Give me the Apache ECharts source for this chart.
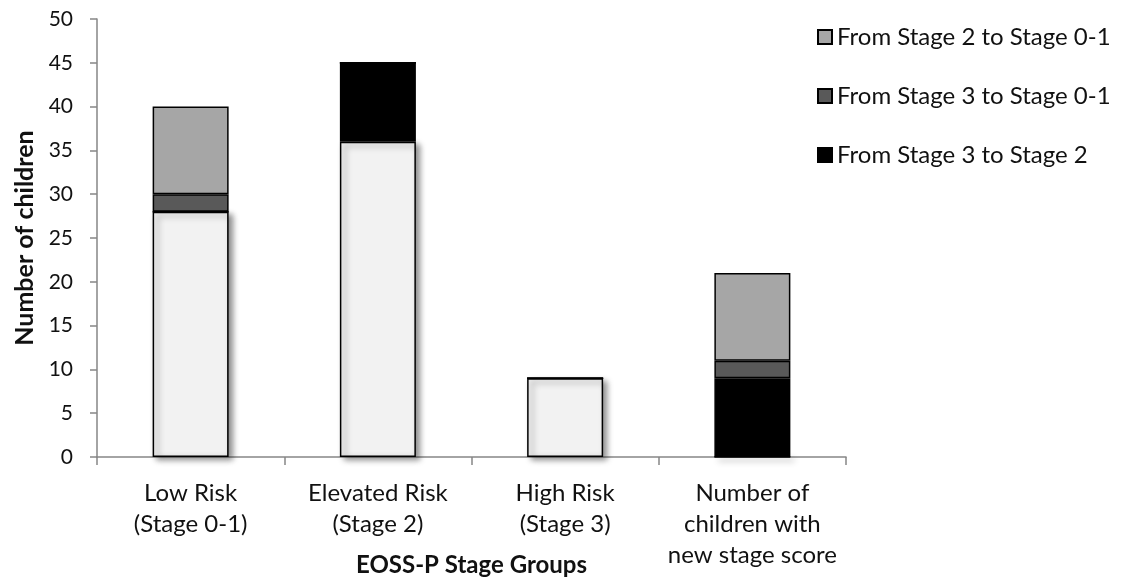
<!DOCTYPE html>
<html>
<head>
<meta charset="utf-8">
<script src="https://cdn.jsdelivr.net/npm/echarts@6/dist/echarts.min.js"></script>
<style>html,body{margin:0;padding:0;background:#fff}#c{width:1128px;height:580px}</style>
</head>
<body>
<div id="c"></div>
<script>
const categories = ["Low Risk\n(Stage 0-1)", "Elevated Risk\n(Stage 2)", "High Risk\n(Stage 3)", "Number of\nchildren with\nnew stage score"];
const baseCounts = [28, 36, 9, 0];
const stage3to2 = [0, 9, 0, 9];
const stage3to01 = [2, 0, 0, 2];
const stage2to01 = [10, 0, 0, 10];
const yTicks = { min: 0, max: 50, interval: 5 };

const font = "Lato, 'Open Sans', sans-serif";
const border = { borderColor: '#000', borderWidth: 1.5 };
const chart = echarts.init(document.getElementById('c'));
chart.setOption({
  animation: false,
  textStyle: { fontFamily: font },
  grid: { left: 97, right: 282, top: 19, bottom: 123, outerBoundsMode: 'none', containLabel: false },
  legend: {
    orient: 'vertical', left: 812, top: 20, itemGap: 35, itemWidth: 14, itemHeight: 14,
    icon: 'rect',
    data: ['From Stage 2 to Stage 0-1', 'From Stage 3 to Stage 0-1', 'From Stage 3 to Stage 2'],
    textStyle: { fontSize: 24, color: '#111', fontFamily: font }
  },
  xAxis: {
    type: 'category', data: categories,
    name: 'EOSS-P Stage Groups', nameLocation: 'middle', nameGap: 96, nameMoveOverlap: false,
    nameTextStyle: { fontSize: 24, fontWeight: 'bold', color: '#111', fontFamily: font },
    axisLine: { lineStyle: { color: '#868686', width: 1.5 } },
    axisTick: { show: true, length: 8, lineStyle: { color: '#868686', width: 1.5 } },
    axisLabel: { fontSize: 24, color: '#111', lineHeight: 31, margin: 21, interval: 0 }
  },
  yAxis: {
    type: 'value', min: yTicks.min, max: yTicks.max, interval: yTicks.interval,
    name: 'Number of children', nameLocation: 'middle', nameGap: 60, nameMoveOverlap: false,
    nameTextStyle: { fontSize: 25, fontWeight: 'bold', color: '#111', fontFamily: font },
    axisLine: { show: true, lineStyle: { color: '#868686', width: 1.5 } },
    axisTick: { show: true, length: 7, lineStyle: { color: '#868686', width: 1.5 } },
    splitLine: { show: false },
    axisLabel: { fontSize: 21, color: '#111', margin: 24 }
  },
  series: [
    { name: 'Base', type: 'bar', stack: 's', data: baseCounts, barWidth: 76,
      itemStyle: Object.assign({ color: '#f2f2f2', shadowColor: 'rgba(0,0,0,0.45)', shadowBlur: 6, shadowOffsetX: 4, shadowOffsetY: 3 }, border) },
    { name: 'From Stage 3 to Stage 2', type: 'bar', stack: 's', data: stage3to2,
      itemStyle: Object.assign({ color: '#000000' }, border) },
    { name: 'From Stage 3 to Stage 0-1', type: 'bar', stack: 's', data: stage3to01,
      itemStyle: Object.assign({ color: '#595959' }, border) },
    { name: 'From Stage 2 to Stage 0-1', type: 'bar', stack: 's', data: stage2to01,
      itemStyle: Object.assign({ color: '#a6a6a6' }, border) }
  ]
});
</script>
</body>
</html>
